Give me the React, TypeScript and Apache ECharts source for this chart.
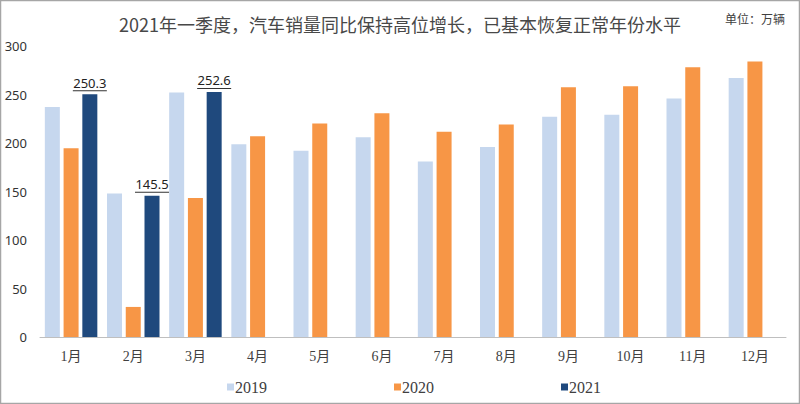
import React, { useEffect, useRef } from "react";
import * as echarts from "echarts";

const months = ["1月", "2月", "3月", "4月", "5月", "6月", "7月", "8月", "9月", "10月", "11月", "12月"];
const s2019 = [237, 148, 252, 198.6, 192, 206, 181, 196, 227, 229, 246, 267];
const s2020 = [194.5, 31, 143.3, 207, 220, 230.6, 211.7, 219, 257.4, 258.4, 278, 284];
const s2021 = [250.3, 145.5, 252.6, null, null, null, null, null, null, null, null, null];
const yTicks = [0, 50, 100, 150, 200, 250, 300];

const titleText = "2021年一季度，汽车销量同比保持高位增长，已基本恢复正常年份水平";
const unitText = "单位：万辆";

export default function App() {
  const ref = useRef<HTMLDivElement>(null);
  useEffect(() => {
    if (!ref.current) return;
    const chart = echarts.init(ref.current, null, { renderer: "svg" });
    const cjk = "'Noto Sans CJK SC', sans-serif";
    const serif = "'Liberation Serif', 'Noto Sans CJK SC', serif";
    chart.setOption({
      animation: false,
      backgroundColor: "#ffffff",
      title: [
        {
          text: titleText,
          left: "center",
          top: 10,
          textStyle: { fontFamily: cjk, fontSize: 18, fontWeight: "normal", color: "#484848" },
        },
        {
          text: unitText,
          right: 10,
          top: 7,
          textStyle: { fontFamily: cjk, fontSize: 12, fontWeight: "normal", color: "#404040" },
        },
      ],
      legend: {
        data: ["2019", "2020", "2021"],
        left: 222,
        top: 374,
        icon: "rect",
        itemWidth: 7,
        itemHeight: 7,
        itemGap: 127,
        textStyle: { fontFamily: serif, fontSize: 16, color: "#404040", padding: [0, 0, 0, -4] },
      },
      grid: { left: 40, right: 14, top: 46, bottom: 67 },
      xAxis: {
        type: "category",
        data: months,
        axisLine: { lineStyle: { color: "#bfbfbf", width: 1 } },
        axisTick: { show: false },
        axisLabel: { fontFamily: serif, fontSize: 14, color: "#404040", margin: 12 },
      },
      yAxis: {
        type: "value",
        min: yTicks[0],
        max: yTicks[yTicks.length - 1],
        interval: 50,
        splitLine: { show: false },
        axisLine: { show: false },
        axisTick: { show: false },
        axisLabel: { fontFamily: "'Noto Sans', sans-serif", fontSize: 13, color: "#333", margin: 13 },
      },
      series: [
        {
          name: "2019",
          type: "bar",
          data: s2019,
          barWidth: 15,
          barGap: "25%",
          itemStyle: { color: "#c6d7ee" },
        },
        {
          name: "2020",
          type: "bar",
          data: s2020,
          barWidth: 15,
          barGap: "25%",
          itemStyle: { color: "#f79646" },
        },
        {
          name: "2021",
          type: "bar",
          data: s2021,
          barWidth: 15,
          barGap: "25%",
          itemStyle: { color: "#1f497d" },
          label: {
            show: true,
            position: "top",
            distance: 3,
            formatter: (p: any) => `{a|${p.value}}\n{u|}`,
            rich: {
              a: { fontFamily: "'Noto Sans', sans-serif", fontSize: 13, color: "#222", lineHeight: 15, align: "center" },
              u: { width: 34, height: 1, backgroundColor: "#333", align: "center" },
            },
          },
        },
      ],
      graphic: [
        {
          type: "rect",
          shape: { x: 0.5, y: 0.5, width: 799, height: 403 },
          style: { fill: "none", stroke: "#a6a6a6", lineWidth: 1.5 },
          silent: true,
        },
      ],
    });
    return () => chart.dispose();
  }, []);
  return (
    <div
      ref={ref}
      style={{ position: "fixed", left: 0, top: 0, width: 800, height: 404 }}
    />
  );
}
